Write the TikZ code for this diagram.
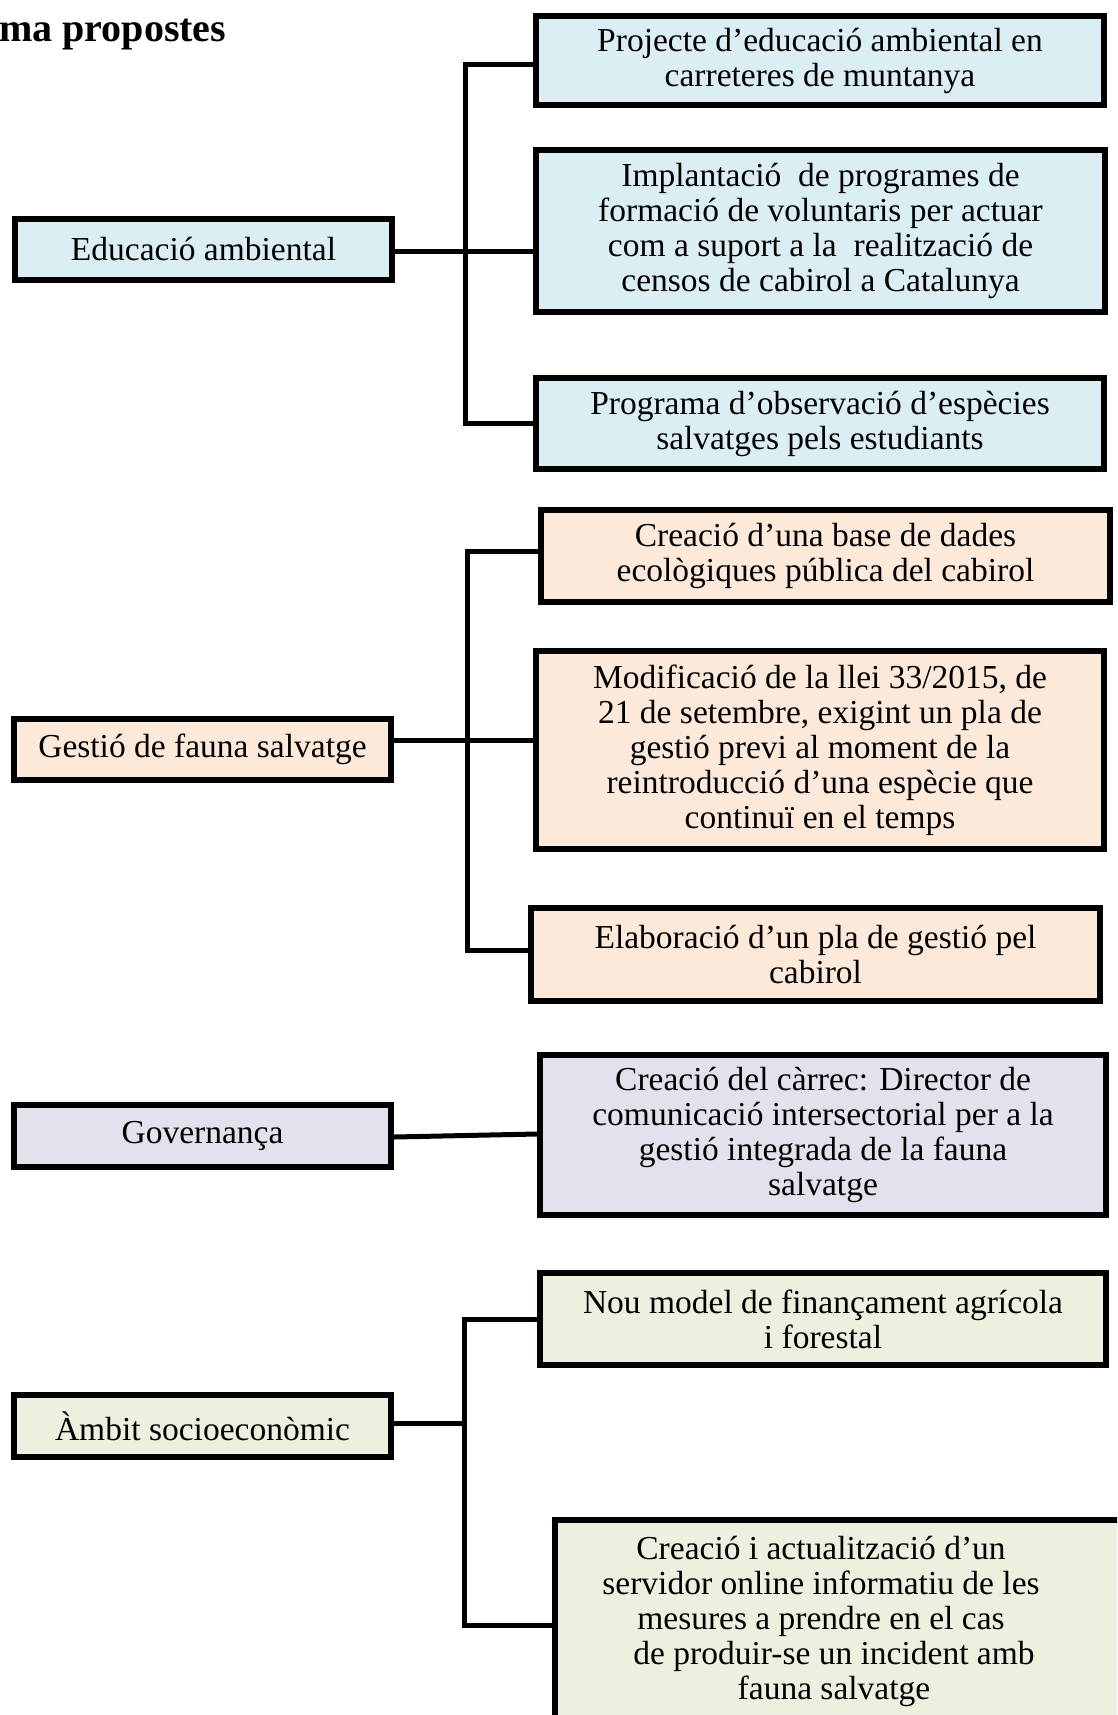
\documentclass[tikz,border=0pt]{standalone}
\usepackage{fontspec}
\setmainfont{Liberation Serif}
\usetikzlibrary{calc}

\definecolor{eduFill}{HTML}{DBEEF4}
\definecolor{fauFill}{HTML}{FDE9D9}
\definecolor{govFill}{HTML}{E5E0EC}
\definecolor{socFill}{HTML}{EBF1DE}

\newcommand{\boxfont}{\fontsize{33.5}{35}\selectfont}

\tikzset{
  box/.style={draw=black, line width=6pt, rectangle, inner sep=0pt,
              align=center, font=\boxfont},
  conn/.style={line width=5pt, line join=miter},
}

\begin{document}
\begin{tikzpicture}[x=1pt, y=-1pt]
\useasboundingbox (0,0) rectangle (1117,1715);
\clip (0,0) rectangle (1117,1715);

% heading
\node[anchor=base west, inner sep=0pt, font=\fontsize{40}{42}\selectfont\bfseries]
  (title) at (-1,42) {ma propostes};

% ---------- Educació ambiental ----------
\node[box, fill=eduFill, minimum width=377pt, minimum height=61pt] (a) at (203.5,249.5) {Educació ambiental};
\node[box, fill=eduFill, minimum width=568pt, minimum height=89pt] (b1) at (820,60.5)
  {Projecte d’educació ambiental en\\carreteres de muntanya};
\node[box, fill=eduFill, minimum width=569pt, minimum height=162pt] (b2) at (820.5,231)
  {Implantació\ \ de programes de\\formació de voluntaris per actuar\\com a suport a la\ \ realització de\\censos de cabirol a Catalunya};
\node[box, fill=eduFill, minimum width=568pt, minimum height=91pt] (b3) at (820,423.5)
  {Programa d’observació d’espècies\\salvatges pels estudiants};
\coordinate (sa) at (465,0);
\draw[conn] ([yshift=-4pt]b1.west) -- ([yshift=-4pt]b1.west -| sa) -- (b3.west -| sa) -- (b3.west);
\draw[conn] ([yshift=-2pt]a.east) -- ([yshift=-2pt]a.east -| b2.west);

% ---------- Gestió de fauna salvatge ----------
\node[box, fill=fauFill, minimum width=377pt, minimum height=61pt] (g) at (202.5,749.5) {Gestió de fauna salvatge};
\node[box, fill=fauFill, minimum width=569pt, minimum height=92pt] (c1) at (825.5,556)
  {Creació d’una base de dades\\ecològiques pública del cabirol};
\node[box, fill=fauFill, minimum width=568pt, minimum height=198pt] (c2) at (820,750)
  {Modificació de la llei 33/2015, de\\21 de setembre, exigint un pla de\\gestió previ al moment de la\\reintroducció d’una espècie que\\continuï en el temps};
\node[box, fill=fauFill, minimum width=569pt, minimum height=93pt] (c3) at (815.5,954.5)
  {Elaboració d’un pla de gestió pel\\cabirol};
\coordinate (sc) at (467,0);
\draw[conn] ([yshift=5pt]c1.west) -- ([yshift=5pt]c1.west -| sc) -- ([yshift=4pt]c3.west -| sc) -- ([yshift=4pt]c3.west);
\draw[conn] ([yshift=9pt]g.east) -- ([yshift=9pt]g.east -| c2.west);

% ---------- Governança ----------
\node[box, fill=govFill, minimum width=377pt, minimum height=62pt] (gov) at (202.5,1136) {Governança};
\node[box, fill=govFill, minimum width=566pt, minimum height=160pt] (d1) at (823,1135)
  {Creació del càrrec: Director de\\comunicació intersectorial per a la\\gestió integrada de la fauna\\salvatge};
\draw[conn] ([yshift=-1pt]gov.east) -- ([yshift=1pt]d1.west);

% ---------- Àmbit socioeconòmic ----------
\node[box, fill=socFill, minimum width=377pt, minimum height=62pt] (am) at (202.5,1426) {Àmbit socioeconòmic};
\node[box, fill=socFill, minimum width=566pt, minimum height=92pt] (e1) at (823,1319)
  {Nou model de finançament agrícola\\i forestal};
\node[box, fill=socFill, minimum width=583pt, minimum height=238pt] (e2) at (846,1638.5) {};
\node[align=center, font=\boxfont, inner sep=0pt] (e2text) at (821,1621)
  {Creació i actualització d’un\\servidor online informatiu de les\\mesures a prendre en el cas\\\hspace*{26pt}de produir-se un incident amb\\\hspace*{26pt}fauna salvatge};
\coordinate (se) at (464,0);
\draw[conn] (e1.west) -- (e1.west -| se) -- ([yshift=13pt]e2.west -| se) -- ([yshift=13pt]e2.west);
\draw[conn] ([yshift=3pt]am.east) -- ([yshift=3pt]am.east -| se);

\end{tikzpicture}
\end{document}
